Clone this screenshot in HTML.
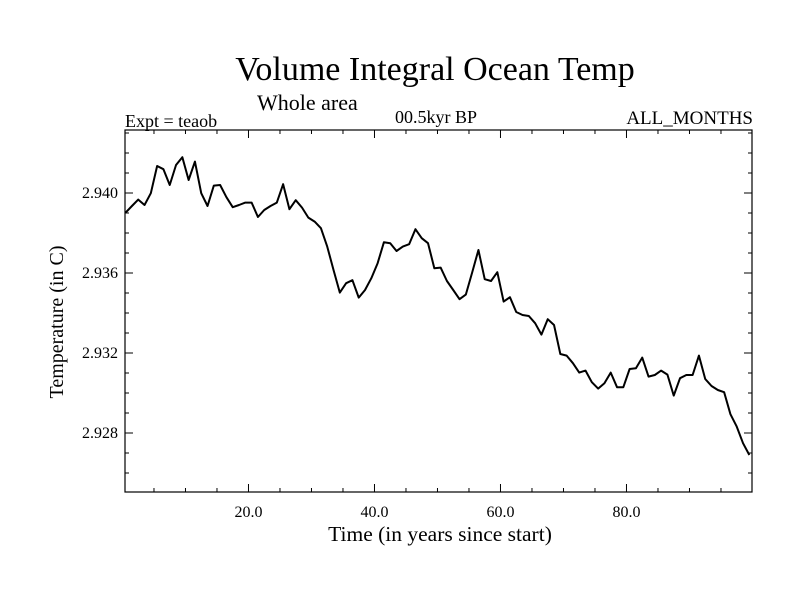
<!DOCTYPE html>
<html><head><meta charset="utf-8"><style>
body{margin:0;background:#fff}
svg text{font-family:"Liberation Serif",serif;fill:#000}
</style></head><body>
<svg id="chart" width="800" height="600" xmlns="http://www.w3.org/2000/svg">
<text x="435" y="80" font-size="34" text-anchor="middle">Volume Integral Ocean Temp</text>
<text x="257" y="110" font-size="22">Whole area</text>
<text x="125" y="127" font-size="18">Expt = teaob</text>
<text x="436" y="123" font-size="18" text-anchor="middle">00.5kyr BP</text>
<text x="753" y="124" font-size="19" text-anchor="end">ALL_MONTHS</text>
<text x="440" y="541" font-size="21.5" text-anchor="middle">Time (in years since start)</text>
<text transform="translate(63,322) rotate(-90)" font-size="20" text-anchor="middle">Temperature (in C)</text>
<g id="axes"></g>
<g id="series"></g>
</svg>
<script>
const yTickValues=[2.928,2.932,2.936,2.940];
const yTickLabels=["2.928","2.932","2.936","2.940"];
const xTickValues=[20,40,60,80];
const xTickLabels=["20.0","40.0","60.0","80.0"];
const temps=[2.93902,2.93935,2.93967,2.9394,2.93999,2.94135,2.94119,2.9404,2.9414,2.94179,2.94065,2.94157,2.93999,2.93935,2.94037,2.9404,2.93979,2.93929,2.9394,2.93952,2.93952,2.9388,2.93915,2.93935,2.93952,2.94044,2.93919,2.93964,2.93927,2.93877,2.93857,2.93824,2.93732,2.93615,2.93502,2.93549,2.93564,2.93477,2.93515,2.93574,2.93649,2.93754,2.93749,2.9371,2.93732,2.93744,2.93819,2.93774,2.93749,2.93624,
2.93627,2.9356,2.93515,2.93469,2.93492,2.93602,2.93715,2.93569,2.9356,2.93604,2.93457,2.93479,2.93405,2.9339,2.93385,2.93349,2.93292,2.93369,2.9334,2.93195,2.93187,2.93149,2.93102,2.93112,2.93054,2.93022,2.93049,2.93102,2.93029,2.93029,2.9312,2.93124,2.93177,2.93082,2.9309,2.93112,2.93092,2.92987,2.93074,2.9309,2.9309,2.93187,2.9307,2.93035,2.93015,2.93004,2.92894,2.92832,2.92749,2.9269];
const L=125,R=752,T=130,B=492;
const X0=0.4,X1=X0+(R-L)/6.3;
const Y0=2.92505,Y1=2.94315;
function xs(v){return L+(v-X0)/(X1-X0)*(R-L);}
function ys(v){return B-(v-Y0)/(Y1-Y0)*(B-T);}
const NS="http://www.w3.org/2000/svg";
const ax=document.getElementById('axes');
function mk(tag,attrs,parent){const e=document.createElementNS(NS,tag);for(const k in attrs)e.setAttribute(k,attrs[k]);parent.appendChild(e);return e;}
const frame=mk('rect',{x:L,y:T,width:R-L,height:B-T,fill:'none',stroke:'#000','stroke-width':1.2},ax);


for(let v=5;v<X1;v+=5){
  const major=v%20===0;const len=major?8:4;const x=xs(v);
  const t1=mk('line',{x1:x,x2:x,y1:B,y2:B-len,stroke:'#000','stroke-width':1},ax);
  
  
  const t2=mk('line',{x1:x,x2:x,y1:T,y2:T+len,stroke:'#000','stroke-width':1},ax);
  
  
}
xTickValues.forEach((v,i)=>{
  const t=mk('text',{x:xs(v),y:B+25,'font-size':16,'text-anchor':'middle'},ax);t.textContent=xTickLabels[i];
  
  
});
for(let k=0;k<20;k++){
  const v=2.926+k*0.001;if(v<Y0||v>Y1)continue;
  const major=Math.abs(((v-2.928)/0.004)-Math.round((v-2.928)/0.004))<1e-6;
  const len=major?8:4;const y=ys(v);
  const t1=mk('line',{x1:L,x2:L+len,y1:y,y2:y,stroke:'#000','stroke-width':1},ax);
  
  
  const t2=mk('line',{x1:R,x2:R-len,y1:y,y2:y,stroke:'#000','stroke-width':1},ax);
  
  
}
yTickValues.forEach((v,i)=>{
  const t=mk('text',{x:L-7,y:ys(v)+5,'font-size':16,'text-anchor':'end'},ax);t.textContent=yTickLabels[i];
  
  
});
const pts=temps.map((v,i)=>xs(i+0.5).toFixed(2)+','+ys(v).toFixed(2)).join(' ');
const line=mk('polyline',{points:pts,fill:'none',stroke:'#000','stroke-width':2,'stroke-linejoin':'round'},document.getElementById('series'));


</script>
</body></html>
